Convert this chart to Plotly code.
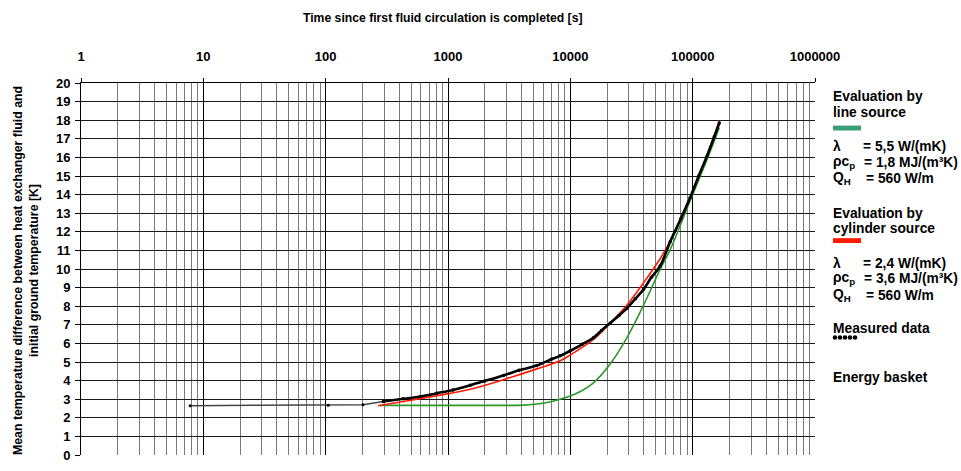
import plotly.graph_objects as go

# Measured mean fluid temperature difference [K] over time [s]
measured_t = [7.8, 105, 202, 296, 432, 600, 810, 1100, 1517, 2000, 2839, 3800,
              5322, 7000, 8257, 10000, 12500, 15450, 18000, 21150, 25000, 28950,
              34000, 39600, 46000, 54200, 65500, 80000, 95400, 112000, 130600,
              150000, 165000]
measured_dT = [2.65, 2.67, 2.70, 2.88, 3.02, 3.15, 3.32, 3.50, 3.75, 3.98, 4.28, 4.55,
               4.81, 5.15, 5.33, 5.60, 5.95, 6.30, 6.70, 7.09, 7.50, 7.88,
               8.40, 8.90, 9.55, 10.16, 11.47, 12.70, 13.84, 15.00, 16.05,
               17.10, 17.85]

# Evaluation by cylinder source
cyl_t = [268, 432, 810, 1517, 2839, 5322, 8257, 10000, 15450, 21150, 28950,
         39600, 54200, 65500, 80000, 95400, 130600, 165600]
cyl_dT = [2.65, 2.88, 3.19, 3.53, 4.05, 4.63, 5.07, 5.38, 6.21, 7.09, 8.05,
          9.25, 10.55, 11.50, 12.65, 13.84, 16.10, 17.97]

# Evaluation by line source
line_t = [279, 1000, 2000, 4110, 6000, 8257, 11300, 15450, 21150, 28950,
          39600, 54200, 65500, 95400, 130600, 165000]
line_dT = [2.67, 2.67, 2.67, 2.68, 2.78, 3.00, 3.32, 3.88, 4.89, 6.30,
           8.05, 9.98, 11.04, 13.67, 15.86, 17.60]

x_tickvals = [1, 10, 100, 1000, 10000, 100000, 1000000]
x_ticktext = ["1", "10", "100", "1000", "10000", "100000", "1000000"]
y_tickvals = list(range(0, 21))

FONT = "Liberation Sans, Arial, sans-serif"
GREEN_LINE = "#2a982a"
GREEN_KEY = "#3a9f78"
RED = "#ff1a00"

# plot area in pixels
L, R, T, B = 81, 815, 83, 463
W, H = 961, 471


def px(x):
    return (x - L) / (R - L)


def py(y):
    return (B - y) / (B - T)


# sparse start-up readings vs. dense logging afterwards
n_sparse = 4

fig = go.Figure()
fig.add_trace(go.Scatter(x=line_t, y=line_dT, mode="lines",
                         line=dict(color=GREEN_LINE, width=1.6, shape="spline"),
                         showlegend=False))
fig.add_trace(go.Scatter(x=cyl_t, y=cyl_dT, mode="lines",
                         line=dict(color=RED, width=1.6, shape="spline"),
                         showlegend=False))
fig.add_trace(go.Scatter(x=measured_t[:n_sparse], y=measured_dT[:n_sparse],
                         mode="lines+markers",
                         line=dict(color="#444444", width=1.5),
                         marker=dict(color="black", size=3),
                         showlegend=False))
fig.add_trace(go.Scatter(x=measured_t[n_sparse - 1:], y=measured_dT[n_sparse - 1:],
                         mode="lines+markers",
                         line=dict(color="black", width=2.6, shape="spline"),
                         marker=dict(color="black", size=3.5),
                         showlegend=False))

fig.update_xaxes(
    type="log", range=[0, 6], side="top",
    tickmode="array", tickvals=x_tickvals, ticktext=x_ticktext,
    showline=True, linecolor="black", linewidth=1,
    ticks="outside", ticklen=4, tickcolor="black",
    ticklabelstandoff=12,
    tickfont=dict(family=FONT, size=13, color="black", weight="bold"),
    showgrid=True, gridcolor="black", gridwidth=1,
    minor=dict(dtick="D1", showgrid=True, gridcolor="#7a7a7a", gridwidth=1, ticks=""),
    zeroline=False, fixedrange=True,
)
fig.update_yaxes(
    range=[0, 20], tickmode="array", tickvals=y_tickvals,
    showline=True, linecolor="black", linewidth=1,
    ticks="outside", ticklen=5, tickcolor="black",
    ticklabelstandoff=2,
    tickfont=dict(family=FONT, size=13, color="black", weight="bold"),
    showgrid=True, gridcolor="#1a1a1a", gridwidth=1,
    zeroline=False, fixedrange=True,
)

annotations = [
    dict(text="Time since first fluid circulation is completed [s]",
         x=px(442), y=py(17), font=dict(size=12.2, weight="bold")),
    dict(text="Mean temperature difference between heat exchanger fluid and<br>"
              "initial ground temperature [K]",
         x=px(26), y=py(275), textangle=-90, font=dict(size=12.3, weight="bold")),
]

legend_lines = [
    ("Evaluation by", 831, 97), ("line source", 831, 113),
    ("λ", 831, 148), ("= 5,5 W/(mK)", 861, 148),
    ("ρc<sub>p</sub>", 831, 164), ("= 1,8 MJ/(m³K)", 862, 164),
    ("Q<sub>H</sub>", 831, 181), ("= 560 W/m", 864, 181),
    ("Evaluation by", 831, 216), ("cylinder source", 831, 232),
    ("λ", 831, 267), ("= 2,4 W/(mK)", 861, 267),
    ("ρc<sub>p</sub>", 831, 283), ("= 3,6 MJ/(m³K)", 862, 283),
    ("Q<sub>H</sub>", 831, 300), ("= 560 W/m", 864, 300),
    ("Measured data", 831, 334),
    ("Energy basket", 831, 384),
]
for txt, x, y in legend_lines:
    annotations.append(dict(text=txt, x=px(x), y=py(y), xanchor="left",
                            font=dict(size=13.8, weight="bold")))

for a in annotations:
    a.setdefault("xanchor", "center")
    a.update(xref="paper", yref="paper", yanchor="middle", showarrow=False)
    a["font"] = dict(family=FONT, color="black", **a["font"])

shapes = [
    dict(type="rect", x0=px(833), x1=px(861), y0=py(131.5), y1=py(126.5),
         fillcolor=GREEN_KEY, line_width=0),
    dict(type="rect", x0=px(833), x1=px(861), y0=py(246.5), y1=py(241.5),
         fillcolor=RED, line_width=0),
]
for cx in [835, 840, 845, 850, 855]:
    shapes.append(dict(type="circle", x0=px(cx - 2.3), x1=px(cx + 2.3),
                       y0=py(345.3), y1=py(340.7),
                       fillcolor="black", line_width=0))
for s in shapes:
    s.update(xref="paper", yref="paper")

fig.update_layout(
    width=W, height=H,
    margin=dict(l=L, r=W - R, t=T, b=H - B, pad=0),
    paper_bgcolor="white", plot_bgcolor="white",
    annotations=annotations, shapes=shapes,
    showlegend=False,
)

fig.write_html("out.html")
